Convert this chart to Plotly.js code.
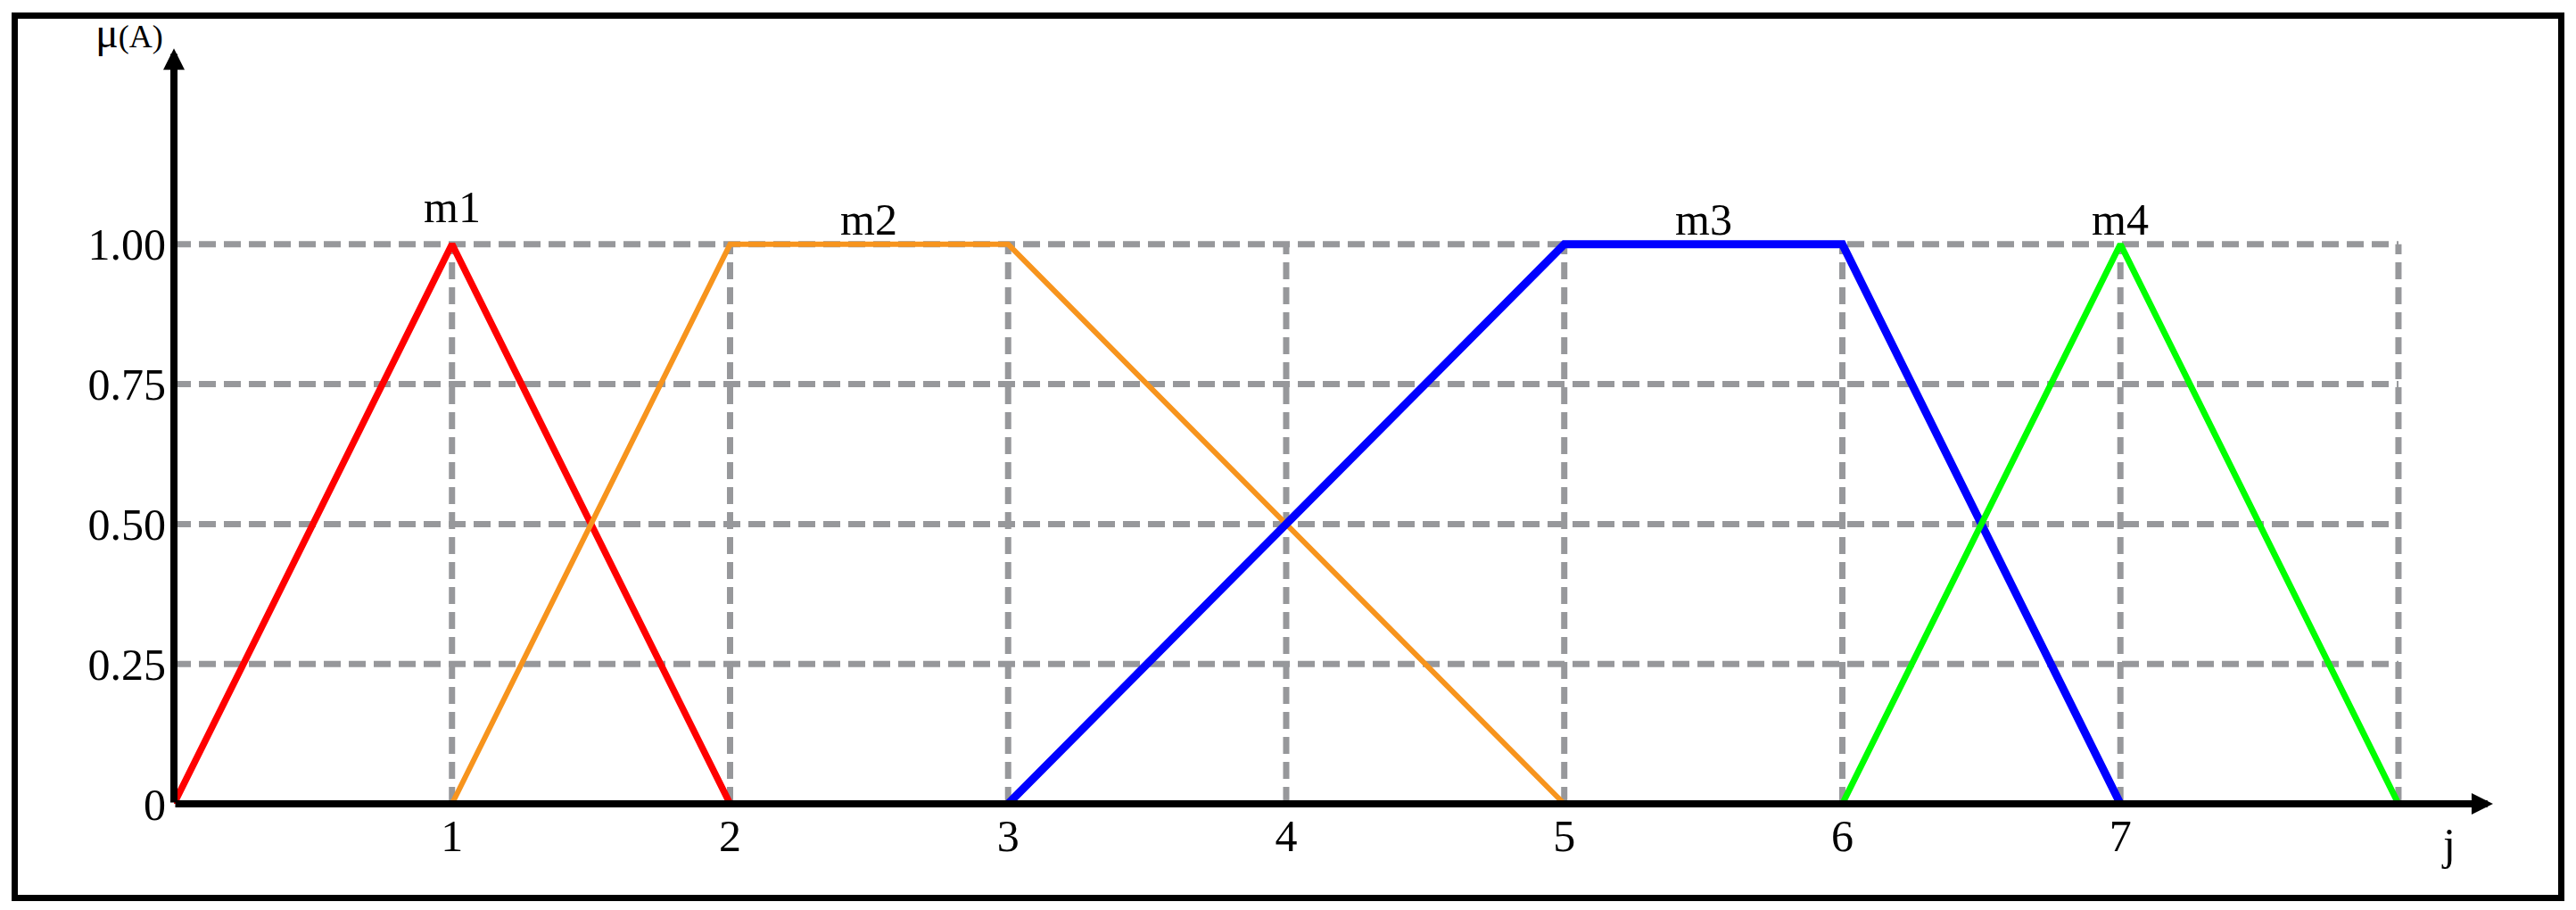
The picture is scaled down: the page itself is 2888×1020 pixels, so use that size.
<!DOCTYPE html>
<html>
<head>
<meta charset="utf-8">
<script src="https://cdn.plot.ly/plotly-3.0.1.min.js"></script>
<style>
  html, body { margin: 0; padding: 0; background: #fff; }
  #chart { width: 2888px; height: 1020px; position: relative; }
  #frame { position: absolute; left: 13px; top: 14px; width: 2848px; height: 982px;
           border: 7px solid #000; pointer-events: none; }
</style>
</head>
<body>
<div id="chart"></div>
<div id="frame"></div>
<script>
"use strict"

// membership functions (j, mu)
var m1X = [0, 1, 2],       m1Y = [0, 1, 0];
var m2X = [1, 2, 3, 5],    m2Y = [0, 1, 1, 0];
var m3X = [3, 5, 6, 7],    m3Y = [0, 1, 1, 0];
var m4X = [6, 7, 8],       m4Y = [0, 1, 0];
var names = ['m1', 'm2', 'm3', 'm4'];
var colors = ['#ff0000', '#f7941d', '#0000ff', '#00ff00'];

var xTickVals = [1, 2, 3, 4, 5, 6, 7];
var xTickText = ['1', '2', '3', '4', '5', '6', '7'];
var yTickVals = [0, 0.25, 0.5, 0.75, 1];
var yTickText = ['0', '0.25', '0.50', '0.75', '1.00'];
var gridX = [1, 2, 3, 4, 5, 6, 7, 8];

var font = 'Liberation Serif, Times New Roman, serif';

var seriesX = [m1X, m2X, m3X, m4X],
	seriesY = [m1Y, m2Y, m3Y, m4Y],
	widths = [7.5, 6, 9, 7];

var dataList = [];
for (var i = 0; i < seriesX.length; i++) {
	dataList.push({
		x: seriesX[i],
		y: seriesY[i],
		name: names[i],
		mode: 'lines',
		type: 'scatter',
		cliponaxis: false,
		line: {color: colors[i], width: widths[i]},
		hoverinfo: 'skip'
	});
}

var xMax = Math.max.apply(null, m4X),
	yMax = Math.max.apply(null, yTickVals);

// dashed grid bounded to the data box
var shapes = [];
var gridLine = {color: '#97989b', width: 7, dash: '19px,9px'};
yTickVals.forEach(function(v) {
	if (v > 0) shapes.push({type: 'line', xref: 'x', yref: 'y', x0: 0, x1: xMax, y0: v, y1: v, line: gridLine, layer: 'below'});
});
gridX.forEach(function(v) {
	shapes.push({type: 'line', xref: 'x', yref: 'y', x0: v, x1: v, y0: 0, y1: yMax, line: gridLine, layer: 'below'});
});

var annotations = [];
// axes with arrow heads
annotations.push({xref: 'x', yref: 'y', axref: 'x', ayref: 'y', x: 8.34, y: 0, ax: 0, ay: 0,
	text: '', showarrow: true, arrowhead: 2, arrowsize: 0.6, arrowwidth: 8, arrowcolor: '#000'});
annotations.push({xref: 'x', yref: 'y', axref: 'x', ayref: 'y', x: 0, y: 1.35, ax: 0, ay: 0,
	text: '', showarrow: true, arrowhead: 2, arrowsize: 0.6, arrowwidth: 8, arrowcolor: '#000'});

// labels over each peak / plateau
for (var k = 0; k < seriesX.length; k++) {
	var xs = seriesX[k], ys = seriesY[k];
	var peak = [];
	for (var p = 0; p < xs.length; p++) if (ys[p] === yMax) peak.push(xs[p]);
	var cx = (peak[0] + peak[peak.length - 1]) / 2;
	annotations.push({xref: 'x', yref: 'y', x: cx, y: yMax, yanchor: 'bottom', yshift: k === 0 ? 12 : -2,
		text: names[k], showarrow: false, font: {family: font, size: 50, color: '#000'}});
}

// axis names (anchored on in-range points, shifted out in pixels)
annotations.push({xref: 'x', yref: 'y', x: 0, y: 1.35, xanchor: 'right', yanchor: 'middle', xshift: -10, yshift: 18,
	text: 'μ<span style="font-size:36px">(A)</span>', showarrow: false,
	font: {family: font, size: 48, color: '#000'}});
annotations.push({xref: 'x', yref: 'y', x: 8.18, y: 0, yanchor: 'middle', yshift: -45,
	text: 'j', showarrow: false, font: {family: font, size: 50, color: '#000'}});

var layout = {
	width: 2888,
	height: 1020,
	margin: {l: 195, r: 12, t: 48, b: 119, pad: 0},
	paper_bgcolor: '#fff',
	plot_bgcolor: '#fff',
	showlegend: false,
	font: {family: font, size: 50, color: '#000'},
	xaxis: {
		range: [0, 8.6],
		tickvals: xTickVals,
		ticktext: xTickText,
		showgrid: false,
		zeroline: false,
		showline: false,
		ticks: '',
		ticklabelstandoff: 2,
		tickfont: {family: font, size: 50, color: '#000'}
	},
	yaxis: {
		range: [0, 1.36],
		tickvals: yTickVals,
		ticktext: yTickText,
		showgrid: false,
		zeroline: false,
		showline: false,
		ticks: '',
		ticklabelstandoff: 8,
		tickfont: {family: font, size: 50, color: '#000'}
	},
	shapes: shapes,
	annotations: annotations
};

Plotly.newPlot('chart', dataList, layout, {staticPlot: true});
</script>
</body>
</html>
